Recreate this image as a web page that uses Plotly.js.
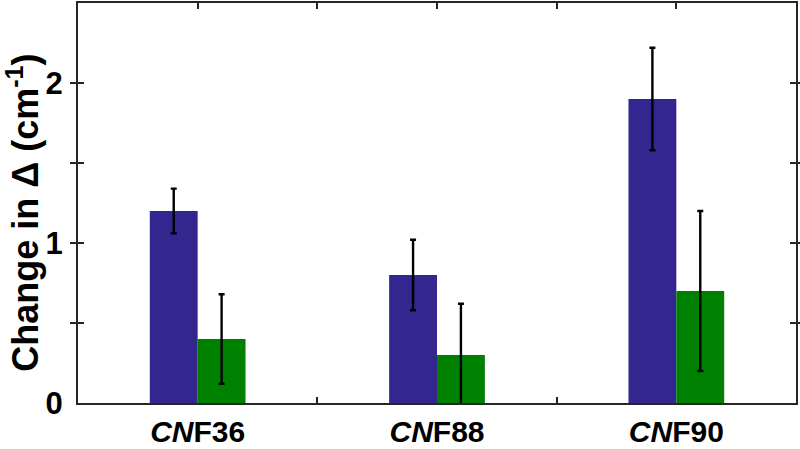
<!DOCTYPE html>
<html>
<head>
<meta charset="utf-8">
<script src="https://cdn.plot.ly/plotly-3.0.1.min.js"></script>
<style>html,body{margin:0;padding:0;background:#fff;}#chart{width:800px;height:449px;}</style>
</head>
<body>
<div id="chart"></div>
<script>
// Data
const categories = ["<i>CN</i>F36", "<i>CN</i>F88", "<i>CN</i>F90"];
const blueValues = [1.2, 0.8, 1.9];
const blueErrors = [0.14, 0.22, 0.32];
const greenValues = [0.4, 0.3, 0.7];
const greenErrors = [0.28, 0.32, 0.5];
const yTickVals = [0, 0.5, 1, 1.5, 2, 2.5];
const yTickText = ["0", "", "1", "", "2", ""];
const yTitle = "Change in Δ (cm<sup>-1</sup>)";
const xPos = categories.map((c, i) => i + 1);
const xMidTicks = [1.5, 2.5];
const xTopTicks = [1, 1.5, 2, 2.5, 3];

const FONT = "Liberation Sans, Arial, sans-serif";
const AXC = "#262626";

const errStyle = {type: "data", visible: true, color: "#000", thickness: 2.4, width: 3};

const data = [
  {type: "bar", x: xPos, y: blueValues, marker: {color: "#33268f", line: {width: 0}},
   error_y: Object.assign({array: blueErrors}, errStyle), showlegend: false},
  {type: "bar", x: xPos, y: greenValues, marker: {color: "#008000", line: {width: 0}},
   error_y: Object.assign({array: greenErrors}, errStyle), showlegend: false},
  {type: "scatter", x: [], y: [], xaxis: "x2", showlegend: false, hoverinfo: "skip"},
  {type: "scatter", x: [], y: [], xaxis: "x3", showlegend: false, hoverinfo: "skip"}
];

const layout = {
  width: 800, height: 449,
  margin: {l: 78, r: 4, t: 3, b: 46, pad: 0},
  paper_bgcolor: "#fff", plot_bgcolor: "#fff",
  barmode: "group", bargap: 0.6, bargroupgap: 0,
  font: {family: FONT, color: "#000"},
  xaxis: {
    range: [0.5, 3.5], tickvals: xPos, ticktext: categories, ticks: "",
    showline: true, mirror: true, linecolor: AXC, linewidth: 2,
    showgrid: false, zeroline: false, fixedrange: true,
    tickfont: {family: FONT, size: 30, weight: "bold", color: "#000"},
    ticklabelstandoff: 1
  },
  xaxis2: {
    overlaying: "x", side: "bottom", range: [0.5, 3.5], tickvals: xMidTicks,
    ticks: "inside", ticklen: 6, tickwidth: 2, tickcolor: AXC,
    showticklabels: false, showline: false, showgrid: false, zeroline: false
  },
  xaxis3: {
    overlaying: "x", side: "top", range: [0.5, 3.5], tickvals: xTopTicks,
    ticks: "inside", ticklen: 6, tickwidth: 2, tickcolor: AXC,
    showticklabels: false, showline: false, showgrid: false, zeroline: false
  },
  yaxis: {
    range: [0, 2.5], tickvals: yTickVals, ticktext: yTickText,
    ticks: "inside", ticklen: 6, tickwidth: 2, tickcolor: AXC,
    showline: true, mirror: "allticks", linecolor: AXC, linewidth: 2,
    showgrid: false, zeroline: false, fixedrange: true,
    tickfont: {family: FONT, size: 31, weight: "bold", color: "#000"},
    ticklabelstandoff: 7
  },
  annotations: [{
    text: yTitle, textangle: -90, showarrow: false,
    xref: "paper", yref: "paper", x: -0.077, y: 0.475,
    xanchor: "center", yanchor: "middle",
    font: {family: FONT, size: 36, weight: "bold", color: "#000"}
  }]
};

Plotly.newPlot("chart", data, layout, {displayModeBar: false, staticPlot: true});
</script>
</body>
</html>
